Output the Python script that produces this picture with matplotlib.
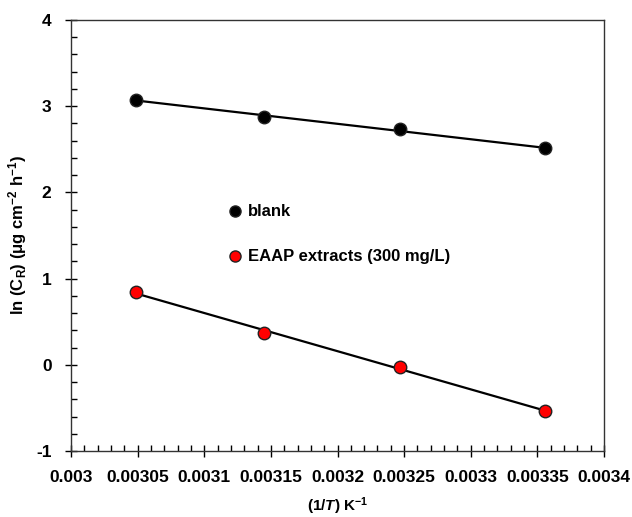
import numpy as np
import matplotlib
matplotlib.use("Agg")
from matplotlib import pyplot as plt
from matplotlib.ticker import MultipleLocator

plt.rcParams['font.family'] = ['Liberation Sans', 'DejaVu Sans']
plt.rcParams['axes.unicode_minus'] = False
plt.rcParams['mathtext.fontset'] = 'custom'
plt.rcParams['mathtext.rm'] = 'Liberation Sans:bold'
plt.rcParams['mathtext.it'] = 'Liberation Sans:bold:italic'
plt.rcParams['mathtext.bf'] = 'Liberation Sans:bold'

# 1/T for 328, 318, 308, 298 K
inv_T = [1/328.0, 1/318.0, 1/308.0, 1/298.0]
blank = [3.07, 2.88, 2.73, 2.51]
eaap = [0.84, 0.37, -0.02, -0.54]
labels = ['blank', 'EAAP extracts (300 mg/L)']
xtick_vals = [0.003, 0.00305, 0.0031, 0.00315, 0.0032, 0.00325, 0.0033, 0.00335, 0.0034]
xtick_labels = ['0.003', '0.00305', '0.0031', '0.00315', '0.0032',
		'0.00325', '0.0033', '0.00335', '0.0034']
ytick_vals = [-1, 0, 1, 2, 3, 4]

fig = plt.figure(figsize=(6.32, 5.17), dpi=100)
ax = fig.add_axes([71/632, 1-451/517, 533/632, 431/517])

x = np.array(inv_T)
for y, fc in [(blank, 'black'), (eaap, 'red')]:
	p = np.polyfit(x, y, 1)
	xx = np.array([x[0], x[-1]])
	ax.plot(xx, np.polyval(p, xx), color='black', lw=1.6, zorder=2)
	ax.plot(x, y, 'o', ms=9, mfc=fc, mec='#222222', mew=1, zorder=3)

ax.set_xlim(0.003, 0.0034)
ax.set_ylim(-1, 4)
ax.set_xticks(xtick_vals)
ax.set_xticklabels(xtick_labels)
ax.set_yticks(ytick_vals)
ax.set_yticklabels([str(v) for v in ytick_vals])
ax.xaxis.set_minor_locator(MultipleLocator(0.00001))
ax.yaxis.set_minor_locator(MultipleLocator(0.2))
ax.tick_params(which='major', direction='inout', length=8, width=1, labelsize=12.5)
ax.tick_params(which='minor', direction='in', length=4, width=1)
ax.tick_params(axis='x', pad=10)
ax.tick_params(axis='y', pad=10)
for t in ax.get_xticklabels() + ax.get_yticklabels():
	t.set_fontweight('bold')
for s in ax.spines.values():
	s.set_linewidth(1)
	s.set_color('#333333')

ax.set_xlabel(r'(1/$T$) K$^{\mathbf{-1}}$', fontsize=11, fontweight='bold', labelpad=7)
ax.set_ylabel(r'ln (C$_{\rm R}$) (μg cm$^{-2}$ h$^{-1}$)', fontsize=12, fontweight='bold', labelpad=5)

# legend drawn as marker + text, as in the reference
ax.plot(0.0031231, 1.78, 'o', ms=8, mfc='black', mec='#222222', mew=1, zorder=3)
ax.text(0.0031328, 1.78, labels[0], fontsize=12, fontweight='bold', va='center')
ax.plot(0.0031231, 1.26, 'o', ms=8, mfc='red', mec='#222222', mew=1, zorder=3)
ax.text(0.0031328, 1.26, labels[1], fontsize=12, fontweight='bold', va='center')

fig.savefig('out.png', dpi=100)
